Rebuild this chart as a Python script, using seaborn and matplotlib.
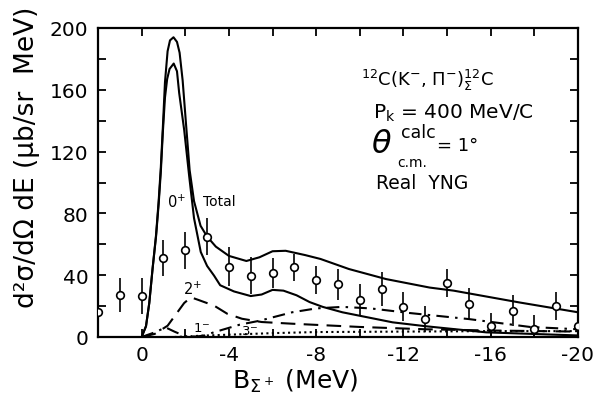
import matplotlib
matplotlib.use("Agg")
import matplotlib.pyplot as plt
import pandas as pd
import seaborn as sns
from matplotlib.ticker import MultipleLocator

# Measured spectrum: binding energy (MeV), cross section and error (ub/sr MeV)
b_meas = [2, 1, 0, -1, -2, -3, -4, -5, -6, -7, -8, -9, -10, -11, -12,
          -13, -14, -15, -16, -17, -18, -19, -20]
xs_meas = [16, 27, 26.5, 51, 56, 65, 45.5, 39.7, 41.4, 45, 37, 34, 24, 31,
           19.6, 11.6, 35, 21.4, 7, 17, 5, 20, 7]
xs_err = [11, 11, 11.5, 11.7, 12, 12, 12.5, 12, 10, 9, 9, 10, 10, 11, 9.5,
          8.5, 9, 10, 8.5, 10, 9, 9, 9]

# Calculated spectra (real YNG interaction)
total_b = [0.0, -0.2, -0.35, -0.5, -0.66, -0.78, -0.88, -0.97, -1.07, -1.19,
           -1.3, -1.46, -1.62, -1.74, -1.88, -2.05, -2.2, -2.4, -2.7, -3.0,
           -3.4, -4.0, -4.8, -5.4, -6.0, -6.6, -7.5, -8.2, -9.5, -11.2,
           -13.2, -14.3, -17.3, -20.0]
total_xs = [0, 7, 22, 44, 66, 88, 110, 135, 165, 185, 192, 194, 191, 184,
            166, 135, 108, 88, 72, 65, 58.5, 52.5, 49.2, 51.6, 55.5, 55.8,
            53, 50.5, 44, 37.5, 32, 30, 22.4, 16]

zero_b = [0.0, -0.2, -0.35, -0.5, -0.66, -0.78, -0.88, -0.97, -1.07, -1.17,
          -1.28, -1.47, -1.62, -1.72, -1.95, -2.18, -2.4, -2.71, -3.0,
          -3.32, -3.6, -4.23, -5.0, -5.5, -6.0, -6.5, -7.1, -7.7, -8.3,
          -9.2, -11.5, -13.0, -15.8, -20.0]
zero_xs = [0, 7, 22, 44, 65, 86, 107, 132, 155, 167, 173.5, 177, 172, 158,
           134, 104, 77, 55, 46, 39.7, 33.5, 29.5, 26.5, 27.5, 30.5, 30, 27,
           22.6, 19.5, 16, 9.5, 7, 3, 1]

two_b = [0.0, -0.6, -1.19, -1.64, -1.95, -2.26, -2.6, -3.32, -3.93, -4.6,
         -5.5, -6.9, -10.0, -13.0, -16.0, -20.0]
two_xs = [0, 2, 7.3, 16, 22, 25.7, 24, 20.3, 15, 11.8, 9.7, 8.6, 6.5, 5,
          4.2, 3.5]

one_b = [0.0, -0.6, -1.1, -1.5, -2.0, -2.5, -2.9, -3.3, -3.9, -4.5, -5.4,
         -6.9, -8.0, -9.2, -10.5, -12.3, -15.0, -17.8, -20.0]
one_xs = [0, 3, 6.2, 3.5, 0.5, 0.3, 1, 3, 5.5, 8, 10.5, 16, 18.5, 19.5,
          18.5, 15.5, 11.6, 6.5, 5]

three_b = [-1.5, -3.0, -4.0, -6.0, -8.0, -12.0, -16.0, -20.0]
three_xs = [0, 1, 1.5, 2.5, 3.2, 3.5, 3.8, 3.8]

sns.set_theme(style="ticks")
plt.rcParams["font.family"] = ["DejaVu Sans"]
plt.rcParams["mathtext.fontset"] = "dejavusans"
plt.rcParams["axes.unicode_minus"] = False
for key in ("text.color", "axes.labelcolor", "xtick.color", "ytick.color",
            "axes.edgecolor"):
    plt.rcParams[key] = "black"

fig = plt.figure(figsize=(5.93, 4.02), dpi=100)
ax = fig.add_axes([98 / 593, 1 - 338 / 402, 480 / 593, 309 / 402])

curves = [
    (total_b, total_xs, "-"),
    (zero_b, zero_xs, "-"),
    (two_b, two_xs, (0, (7, 4))),
    (one_b, one_xs, (0, (6, 3, 1.2, 3))),
    (three_b, three_xs, (0, (1, 1.6))),
]
for bx, yy, ls in curves:
    df = pd.DataFrame({"B": bx, "xs": yy})
    n0 = len(ax.lines)
    sns.lineplot(data=df, x="B", y="xs", ax=ax, color="black", lw=1.5,
                 sort=False, estimator=None)
    for ln in ax.lines[n0:]:
        ln.set_linestyle(ls)

ax.errorbar(b_meas, xs_meas, yerr=xs_err, fmt="o", mfc="white",
            mec="black", ecolor="black", ms=5.5, mew=1.2, elinewidth=1.2,
            capsize=0, zorder=5)

ax.set_xlim(2, -20)
ax.set_ylim(0, 200)
ax.xaxis.set_major_locator(MultipleLocator(4))
ax.xaxis.set_minor_locator(MultipleLocator(2))
ax.yaxis.set_major_locator(MultipleLocator(40))
ax.yaxis.set_minor_locator(MultipleLocator(20))
ax.tick_params(which="both", direction="in", top=True, right=True,
               length=6, width=1.3, color="black")
ax.tick_params(axis="x", which="major", labelsize=14.5, pad=6,
               labelcolor="black")
ax.tick_params(axis="y", which="major", labelsize=14.5, pad=7,
               labelcolor="black")
for sp in ax.spines.values():
    sp.set_linewidth(1.6)
    sp.set_color("black")

ax.set_xlabel(r"B$_{\Sigma^+}$ (MeV)", fontsize=18, ha="center", va="top",
              color="black")
ax.xaxis.set_label_coords(0.41, -0.095)
ax.set_ylabel("d²σ/dΩ dE (μb/sr  MeV)", fontsize=19, color="black")
ax.yaxis.set_label_coords(-0.12, 0.585)

txt = dict(color="black", ha="center", va="center")
ax.text(-13.1, 167, r"$^{12}$C(K$^{-}$, $\Pi^{-}$)$^{12}_{\Sigma}$C",
        fontsize=13, **txt)
ax.text(-14.3, 145.5, r"P$_{\rm k}$ = 400 MeV/C", fontsize=14.5, **txt)
ax.text(-11.0, 125, r"$\theta$", fontsize=23, **txt)
ax.text(-12.67, 133, "calc", fontsize=12.5, **txt)
ax.text(-12.4, 113, "c.m.", fontsize=10, **txt)
ax.text(-14.5, 124, "= 1°", fontsize=13, **txt)
ax.text(-12.85, 100, "Real  YNG", fontsize=13.5, **txt)

ax.text(-1.62, 88, r"0$^{+}$", fontsize=10.5, **txt)
ax.text(-3.55, 88, "Total", fontsize=10, **txt)
ax.text(-2.35, 31.7, r"2$^{+}$", fontsize=10.5, **txt)
ax.text(-2.77, 6, r"1$^{-}$", fontsize=9.5, **txt)
ax.text(-4.97, 4.5, r"3$^{-}$", fontsize=9.5, **txt)

fig.savefig("out.png", dpi=100)
